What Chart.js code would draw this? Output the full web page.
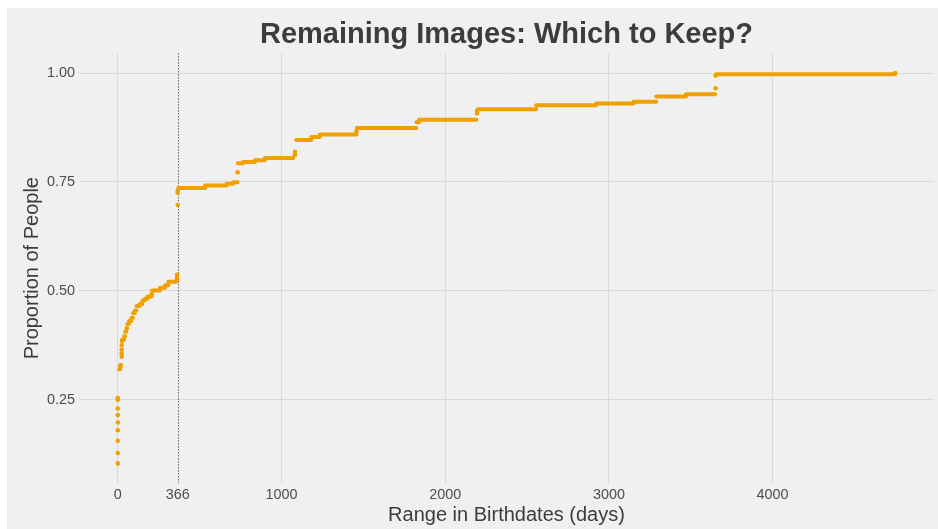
<!DOCTYPE html>
<html>
<head>
<meta charset="utf-8">
<title>Remaining Images: Which to Keep?</title>
<script src="https://cdn.jsdelivr.net/npm/chart.js@4"></script>
<style>
  body { margin: 0; background: #ffffff; }
  #wrap { position: absolute; left: 7px; top: 8px; width: 931px; height: 521px; background: #f0f0f0; }
</style>
</head>
<body>
<div id="wrap"><canvas id="chart" width="931" height="521"></canvas></div>
<script>
// ── Data ────────────────────────────────────────────────────

// Horizontal runs of the cumulative curve: start day, end day, proportion
const runStart = [26, 38, 45, 52, 58, 68, 83, 93, 104, 114, 134, 150, 166, 182, 210, 258, 289, 309,
  370, 533, 665, 705, 733, 766, 838, 899, 1090, 1183, 1234, 1460, 1824, 1840,
  2200, 2556, 2922, 3150, 3289, 3471, 3655];
const runEnd = [38, 45, 52, 58, 68, 83, 93, 104, 114, 134, 150, 166, 182, 207, 258, 289, 309, 356,
  533, 665, 705, 732, 766, 838, 899, 1071, 1183, 1234, 1458, 1824, 1840, 2190,
  2556, 2922, 3150, 3289, 3471, 3649, 4749];
const runProp = [0.388, 0.396, 0.406, 0.414, 0.424, 0.431, 0.438, 0.449, 0.455, 0.465, 0.470, 0.478, 0.482, 0.487, 0.501, 0.507, 0.513, 0.521,
  0.736, 0.742, 0.746, 0.749, 0.793, 0.796, 0.800, 0.805, 0.846, 0.853, 0.859, 0.874, 0.887, 0.893,
  0.917, 0.926, 0.930, 0.934, 0.946, 0.951, 0.997];

// Isolated points (in the jumps between runs)
const pointDay = [0, 0, 0, 0, 0, 0, 0, 0, 0, 12, 16, 18, 24, 24, 24, 24, 26, 207, 362, 362, 362,
  366, 366, 366, 732, 1082, 1082, 1458, 2195, 2195, 3652, 3652, 4749];
const pointProp = [0.104, 0.128, 0.156, 0.180, 0.198, 0.215, 0.230, 0.250, 0.254, 0.320, 0.326, 0.330,
  0.349, 0.356, 0.365, 0.375, 0.385, 0.493, 0.526, 0.530, 0.537,
  0.697, 0.725, 0.730, 0.772, 0.812, 0.819, 0.866, 0.907, 0.913, 0.965, 0.994, 1.0];

const dayTicks = [0, 366, 1000, 2000, 3000, 4000];
const propTicks = [0.25, 0.5, 0.75, 1.0];
const CUTOFF_DAY = 366;

// ── Chart ───────────────────────────────────────────────────

const ORANGE = "#f0a000";
const FONT = "'Liberation Sans', Arial, sans-serif";

const runData = [];
runStart.forEach((s, i) => {
  runData.push({ x: s, y: runProp[i] }, { x: runEnd[i], y: runProp[i] }, { x: runEnd[i], y: null });
});
const pointData = pointDay.map((d, i) => ({ x: d, y: pointProp[i] }));

// dotted vertical line at the one-year cutoff
const cutoffLine = {
  id: "cutoffLine",
  beforeDatasetsDraw(chart) {
    const { ctx, chartArea, scales } = chart;
    const x = Math.round(scales.x.getPixelForValue(CUTOFF_DAY)) + 0.5;
    ctx.save();
    ctx.strokeStyle = "#222222";
    ctx.lineWidth = 1;
    ctx.setLineDash([1, 2]);
    ctx.beginPath();
    ctx.moveTo(x, chartArea.top);
    ctx.lineTo(x, chartArea.bottom);
    ctx.stroke();
    ctx.restore();
  },
};

new Chart(document.getElementById("chart"), {
  type: "scatter",
  data: {
    datasets: [
      {
        data: runData,
        showLine: true,
        spanGaps: false,
        borderColor: ORANGE,
        borderWidth: 4,
        borderCapStyle: "round",
        pointRadius: 0,
      },
      {
        data: pointData,
        backgroundColor: ORANGE,
        borderWidth: 0,
        pointRadius: 2.3,
      },
    ],
  },
  options: {
    responsive: false,
    animation: false,
    devicePixelRatio: 1,
    layout: { padding: { left: 0, right: 3, top: 0, bottom: 0 } },
    plugins: {
      legend: { display: false },
      tooltip: { enabled: false },
      title: {
        display: true,
        fullSize: false,
        text: "Remaining Images: Which to Keep?",
        color: "#3c3c3c",
        font: { family: FONT, size: 29, weight: "bold" },
        padding: { top: 10, bottom: 0.6 },
      },
    },
    scales: {
      x: {
        type: "linear",
        min: -237,
        max: 4986,
        afterBuildTicks: (scale) => { scale.ticks = dayTicks.map((v) => ({ value: v })); },
        afterFit: (scale) => { scale.height = 46; },
        ticks: {
          color: "#4d4d4d",
          font: { family: FONT, size: 14.4 },
          padding: 3,
          maxRotation: 0,
          callback: (v) => String(v),
        },
        grid: {
          drawTicks: false,
          color: (ctx) => (ctx.tick && ctx.tick.value === CUTOFF_DAY ? "rgba(0,0,0,0)" : "#d9d9d9"),
        },
        border: { display: false },
        title: {
          display: true,
          text: "Range in Birthdates (days)",
          color: "#3c3c3c",
          font: { family: FONT, size: 20 },
          padding: { top: 0, bottom: 2 },
        },
      },
      y: {
        min: 0.059,
        max: 1.045,
        afterBuildTicks: (scale) => { scale.ticks = propTicks.map((v) => ({ value: v })); },
        afterFit: (scale) => { scale.width = 72; },
        ticks: {
          color: "#4d4d4d",
          font: { family: FONT, size: 14.4 },
          padding: 4,
          callback: (v) => v.toFixed(2),
        },
        grid: { drawTicks: false, color: "#d9d9d9" },
        border: { display: false },
        title: {
          display: true,
          text: "Proportion of People",
          color: "#3c3c3c",
          font: { family: FONT, size: 20 },
          padding: { top: 13, bottom: 0 },
        },
      },
    },
  },
  plugins: [cutoffLine],
});
</script>
</body>
</html>
